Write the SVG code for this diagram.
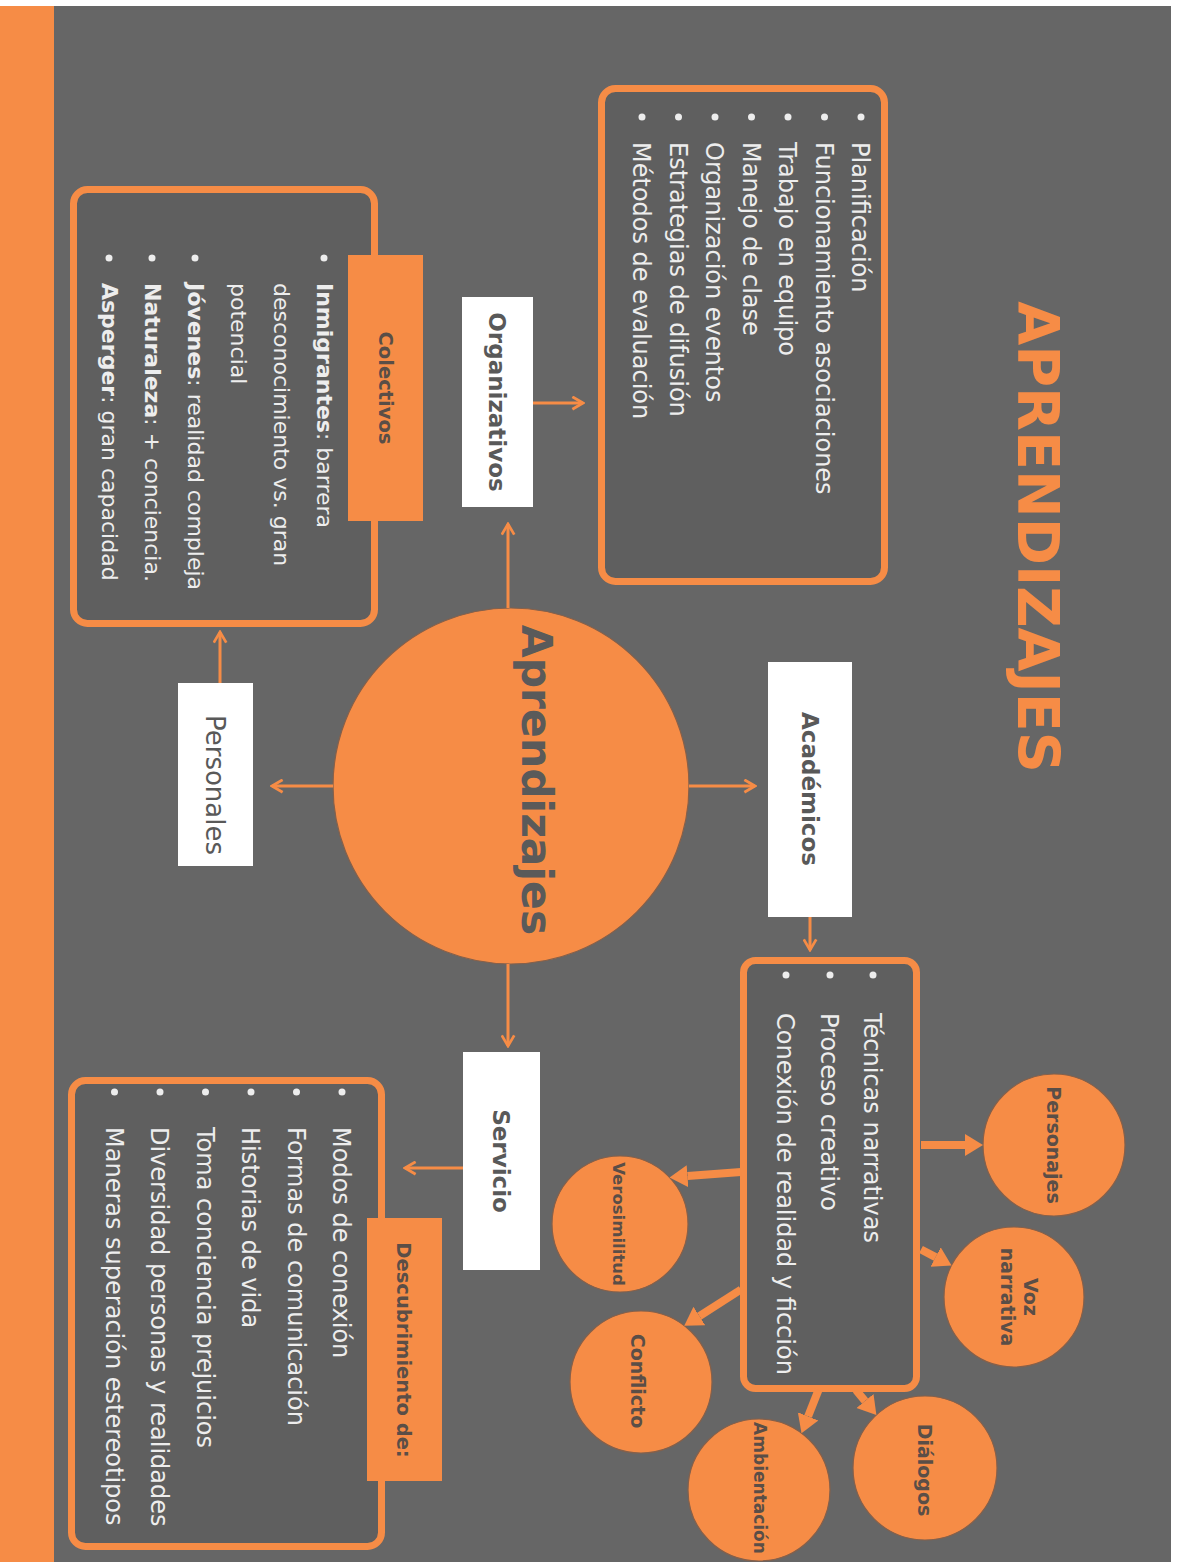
<svg xmlns="http://www.w3.org/2000/svg" width="1179" height="1562" viewBox="0 0 1179 1562">
<defs>
<style>
text{font-family:"DejaVu Sans","Liberation Sans",sans-serif}
.box{fill:#5F5F5F;stroke:#F68C46;stroke-width:7}
.lbl{fill:#FFFFFF}
.olbl{fill:#F68C46}
.li{fill:#EDEDED;font-size:24px}
.li2{fill:#EDEDED;font-size:22px}
.bul{fill:#EDEDED}
.lt{fill:#595959;font-size:23px;font-weight:bold}
.ot{fill:#5A4E47;font-size:19.5px;font-weight:bold}
.ct{fill:#5A4E47;font-size:19px;font-weight:bold}
.sc{fill:#F68C46;stroke:#86604A;stroke-width:1.2}
.thin{stroke:#F68C46;stroke-width:3;fill:none}
.thick{stroke:#F68C46;stroke-width:8;fill:none}
</style>
<marker id="chev" viewBox="0 0 12 12" refX="10.5" refY="6" markerWidth="15" markerHeight="15" markerUnits="userSpaceOnUse" orient="auto">
<path d="M2,1 L10.5,6 L2,11" fill="none" stroke="#F68C46" stroke-width="2.2"/>
</marker>
<marker id="tri" viewBox="0 -12 20 24" refX="0" refY="0" markerWidth="20" markerHeight="24" markerUnits="userSpaceOnUse" orient="auto">
<path d="M0,-11 L18,0 L0,11 z" fill="#F68C46"/>
</marker>
</defs>

<g id="background">
<rect x="0" y="0" width="1179" height="1562" fill="#FFFFFF"/>
<rect x="54" y="6" width="1117" height="1556" fill="#666666"/>
<rect x="0" y="6" width="54" height="1556" fill="#F68C46"/>
</g>

<g id="title">
<text transform="translate(1018,537) rotate(90)" text-anchor="middle" font-size="57" font-weight="bold" fill="#F68C46">APRENDIZAJES</text>
</g>

<g id="node-aprendizajes">
<circle cx="511" cy="786" r="178" fill="#F68C46" stroke="#86604A" stroke-width="1.2"/>
<text transform="translate(522,780) rotate(90)" text-anchor="middle" font-size="42.5" font-weight="bold" fill="#5A5A5A">Aprendizajes</text>
</g>

<g id="node-organizativos">
<rect class="lbl" x="462" y="297" width="71" height="210"/>
<text class="lt" transform="translate(489,402) rotate(90)" text-anchor="middle">Organizativos</text>
</g>

<g id="node-organizativos-lista">
<rect class="box" x="601.5" y="88.5" width="283" height="493" rx="14"/>
<circle class="bul" cx="861" cy="117" r="3.5"/>
<circle class="bul" cx="824.5" cy="117" r="3.5"/>
<circle class="bul" cx="788" cy="117" r="3.5"/>
<circle class="bul" cx="751.5" cy="117" r="3.5"/>
<circle class="bul" cx="715" cy="117" r="3.5"/>
<circle class="bul" cx="678.5" cy="117" r="3.5"/>
<circle class="bul" cx="642" cy="117" r="3.5"/>
<text class="li" transform="translate(852,142) rotate(90)">Planificación</text>
<text class="li" transform="translate(815.5,142) rotate(90)">Funcionamiento asociaciones</text>
<text class="li" transform="translate(779,142) rotate(90)">Trabajo en equipo</text>
<text class="li" transform="translate(742.5,142) rotate(90)">Manejo de clase</text>
<text class="li" transform="translate(706,142) rotate(90)">Organización eventos</text>
<text class="li" transform="translate(669.5,142) rotate(90)">Estrategias de difusión</text>
<text class="li" transform="translate(633,142) rotate(90)">Métodos de evaluación</text>
</g>

<g id="node-colectivos">
<rect class="box" x="73.5" y="189.5" width="301" height="434" rx="14"/>
<rect class="olbl" x="348" y="255" width="75" height="266"/>
<text class="ot" transform="translate(378.5,388) rotate(90)" text-anchor="middle">Colectivos</text>
<circle class="bul" cx="324" cy="258" r="3.5"/>
<circle class="bul" cx="195" cy="258" r="3.5"/>
<circle class="bul" cx="152" cy="258" r="3.5"/>
<circle class="bul" cx="109" cy="258" r="3.5"/>
<text class="li2" transform="translate(317,283) rotate(90)"><tspan font-weight="bold">Inmigrantes</tspan>: barrera</text>
<text class="li2" transform="translate(274,283) rotate(90)">desconocimiento vs. gran</text>
<text class="li2" transform="translate(231,283) rotate(90)">potencial</text>
<text class="li2" transform="translate(188,283) rotate(90)"><tspan font-weight="bold">Jóvenes</tspan>: realidad compleja</text>
<text class="li2" transform="translate(145,283) rotate(90)"><tspan font-weight="bold">Naturaleza</tspan>: + conciencia.</text>
<text class="li2" transform="translate(102,283) rotate(90)"><tspan font-weight="bold">Asperger</tspan>: gran capacidad</text>
</g>

<g id="node-personales">
<rect class="lbl" x="178" y="683" width="75" height="183"/>
<text transform="translate(206,785) rotate(90)" text-anchor="middle" font-size="26" fill="#595959">Personales</text>
</g>

<g id="node-academicos">
<rect class="lbl" x="768" y="662" width="84" height="255"/>
<text class="lt" transform="translate(801.5,789) rotate(90)" text-anchor="middle">Académicos</text>
</g>

<g id="node-academicos-lista">
<rect class="box" x="743.5" y="960.5" width="173" height="428" rx="12"/>
<circle class="bul" cx="873" cy="975" r="3.5"/>
<circle class="bul" cx="830" cy="975" r="3.5"/>
<circle class="bul" cx="786" cy="975" r="3.5"/>
<text class="li" transform="translate(864,1013) rotate(90)">Técnicas narrativas</text>
<text class="li" transform="translate(821,1013) rotate(90)">Proceso creativo</text>
<text class="li" transform="translate(777,1013) rotate(90)">Conexión de realidad y ficción</text>
</g>

<g id="node-personajes">
<circle class="sc" cx="1054" cy="1145" r="71"/>
<text class="ct" transform="translate(1047,1145) rotate(90)" text-anchor="middle">Personajes</text>
</g>

<g id="node-voz-narrativa">
<circle class="sc" cx="1014" cy="1297" r="70"/>
<text class="ct" transform="translate(1024,1297) rotate(90)" text-anchor="middle">Voz</text>
<text class="ct" transform="translate(1001,1297) rotate(90)" text-anchor="middle">narrativa</text>
</g>

<g id="node-dialogos">
<circle class="sc" cx="925" cy="1468" r="72"/>
<text class="ct" transform="translate(918,1470) rotate(90)" text-anchor="middle">Diálogos</text>
</g>

<g id="node-ambientacion">
<circle class="sc" cx="759" cy="1490" r="71"/>
<text class="ct" transform="translate(754,1488) rotate(90)" text-anchor="middle" style="font-size:17px">Ambientación</text>
</g>

<g id="node-conflicto">
<circle class="sc" cx="641" cy="1382" r="71"/>
<text class="ct" transform="translate(631,1381) rotate(90)" text-anchor="middle">Conflicto</text>
</g>

<g id="node-verosimilitud">
<circle class="sc" cx="620" cy="1224" r="68"/>
<text class="ct" transform="translate(613,1224) rotate(90)" text-anchor="middle" style="font-size:16.5px">Verosimilitud</text>
</g>

<g id="node-servicio">
<rect class="lbl" x="463" y="1052" width="77" height="218"/>
<text class="lt" transform="translate(493,1161) rotate(90)" text-anchor="middle">Servicio</text>
</g>

<g id="node-descubrimiento">
<rect class="box" x="71.5" y="1080.5" width="310" height="466" rx="14"/>
<rect class="olbl" x="367" y="1218" width="75" height="263"/>
<text class="ot" transform="translate(397,1350) rotate(90)" text-anchor="middle">Descubrimiento de:</text>
<circle class="bul" cx="342" cy="1092" r="3.5"/>
<circle class="bul" cx="296.5" cy="1092" r="3.5"/>
<circle class="bul" cx="251" cy="1092" r="3.5"/>
<circle class="bul" cx="205.5" cy="1092" r="3.5"/>
<circle class="bul" cx="160" cy="1092" r="3.5"/>
<circle class="bul" cx="114.5" cy="1092" r="3.5"/>
<text class="li" transform="translate(333,1127) rotate(90)">Modos de conexión</text>
<text class="li" transform="translate(287.5,1127) rotate(90)">Formas de comunicación</text>
<text class="li" transform="translate(242,1127) rotate(90)">Historias de vida</text>
<text class="li" transform="translate(196.5,1127) rotate(90)">Toma conciencia prejuicios</text>
<text class="li" transform="translate(151,1127) rotate(90)">Diversidad personas y realidades</text>
<text class="li" transform="translate(105.5,1127) rotate(90)">Maneras superación estereotipos</text>
</g>

<g id="connectors">
<line class="thin" x1="508" y1="608" x2="508" y2="524" marker-end="url(#chev)"/>
<line class="thin" x1="533" y1="403" x2="583" y2="403" marker-end="url(#chev)"/>
<line class="thin" x1="689" y1="786" x2="755" y2="786" marker-end="url(#chev)"/>
<line class="thin" x1="810" y1="917" x2="810" y2="950" marker-end="url(#chev)"/>
<line class="thin" x1="333" y1="786" x2="272" y2="786" marker-end="url(#chev)"/>
<line class="thin" x1="220" y1="683" x2="220" y2="632" marker-end="url(#chev)"/>
<line class="thin" x1="508" y1="964" x2="508" y2="1046" marker-end="url(#chev)"/>
<line class="thin" x1="463" y1="1168" x2="405" y2="1168" marker-end="url(#chev)"/>
<line class="thick" x1="921" y1="1145" x2="965" y2="1145" marker-end="url(#tri)"/>
<line class="thick" x1="921" y1="1249.5" x2="935.6" y2="1257.1" marker-end="url(#tri)"/>
<line class="thick" x1="856" y1="1390" x2="865" y2="1401" marker-end="url(#tri)"/>
<line class="thick" x1="818.5" y1="1390" x2="808.1" y2="1416.4" marker-end="url(#tri)"/>
<line class="thick" x1="741" y1="1289.5" x2="699.4" y2="1316.1" marker-end="url(#tri)"/>
<line class="thick" x1="741" y1="1172" x2="687.5" y2="1176.1" marker-end="url(#tri)"/>
</g>
</svg>
